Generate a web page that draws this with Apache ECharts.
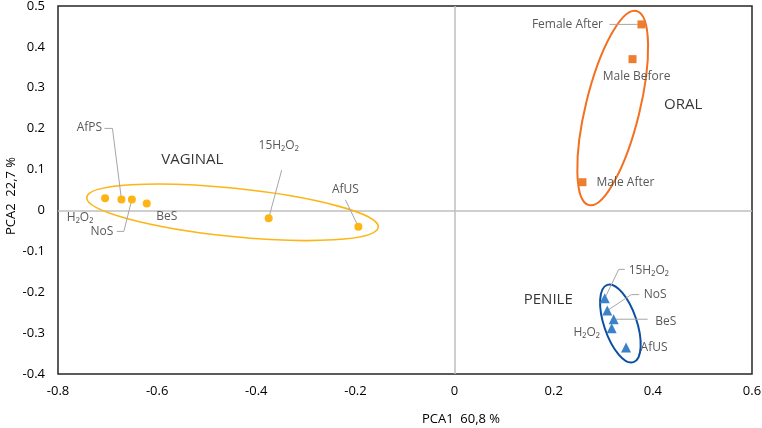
<!DOCTYPE html>
<html>
<head>
<meta charset="utf-8">
<script src="https://cdn.jsdelivr.net/npm/echarts@6/dist/echarts.min.js"></script>
<style>
  html, body { margin: 0; padding: 0; background: #fff; }
  #chart { width: 762px; height: 428px; }
</style>
</head>
<body>
<div id="chart"></div>
<script>
// 数据（从图上读出的 PCA 坐标）
const vaginalNames = ["H₂O₂", "AfPS", "NoS", "BeS", "15H₂O₂", "AfUS"];
const vaginalX = [-0.705, -0.672, -0.651, -0.621, -0.375, -0.194];
const vaginalY = [0.030, 0.027, 0.027, 0.017, -0.019, -0.040];

const oralNames = ["Female After", "Male Before", "Male After"];
const oralX = [0.377, 0.359, 0.258];
const oralY = [0.455, 0.370, 0.069];

const penileNames = ["15H₂O₂", "NoS", "BeS", "H₂O₂", "AfUS"];
const penileX = [0.303, 0.308, 0.321, 0.317, 0.346];
const penileY = [-0.215, -0.245, -0.266, -0.288, -0.335];

// 分组名称及其位置（数据坐标）
const groupNames = ["VAGINAL", "ORAL", "PENILE"];
const groupX = [-0.529, 0.461, 0.189];
const groupY = [0.123, 0.258, -0.219];

// 椭圆：长轴两端点 + 短半轴（y 方向单位）
const ellipseStart = [[-0.742, 0.032], [0.367, 0.488], [0.308, -0.182]];
const ellipseEnd = [[-0.154, -0.041], [0.271, 0.013], [0.361, -0.371]];
const ellipseHalfWidth = [0.059, 0.066, 0.040];
const ellipseColors = ["#FDB515", "#F47021", "#0B4EA2"];

// 标签偏移（像素，相对于点）
const vaginalOffsets = [[-25, 19], [-32, -72], [-30, 32], [20, 13], [10, -73], [-13, -37]];
const oralOffsets = [[-74, 0], [4, 17], [43, 0]];
const penileOffsets = [[44, -28], [48, -16], [52, 2], [-25, 4], [28, 0]];

// 引线折点（像素，相对于点），null = 无引线
const vaginalLeaders = [null, [[-9, -71], [-17, -71]], [[-8, 32], [-15, 32]], null, [[13, -48]], [[-13, -27]]];
const oralLeaders = [[[-5, 0], [-32, 0]], null, null];
const penileLeaders = [[[14, -29], [20, -29]], [[24, -16], [32, -16]], [[34, 0]], null, null];

const FONT = "'Open Sans', 'DejaVu Sans', sans-serif";

function pointSeries(names, xs, ys, symbol, size, color, offsets) {
  return {
    type: "scatter",
    z: 4,
    symbol,
    symbolSize: size,
    itemStyle: { color, opacity: 1 },
    data: names.map((n, i) => ({ name: n, value: [xs[i], ys[i]] })),
    label: {
      show: true,
      position: "inside",
      formatter: "{b}",
      color: "#595959",
      fontSize: 12,
      fontFamily: FONT,
    },
    labelLayout: (p) => ({ dx: offsets[p.dataIndex][0], dy: offsets[p.dataIndex][1] }),
  };
}

// 引线：从点出发，按折点画折线
function leaderSeries(xs, ys, leaders) {
  return {
    type: "custom",
    z: 3,
    silent: true,
    data: xs.map((x, i) => [x, ys[i]]),
    renderItem: (params, api) => {
      const bends = leaders[params.dataIndex];
      if (!bends) return null;
      const p = api.coord([api.value(0), api.value(1)]);
      const pts = [p].concat(bends.map((b) => [p[0] + b[0], p[1] + b[1]]));
      return {
        type: "polyline",
        shape: { points: pts },
        style: { fill: "none", stroke: "#A6A6A6", lineWidth: 1 },
      };
    },
  };
}

const myChart = echarts.init(document.getElementById("chart"));

myChart.setOption({
  animation: false,
  grid: {
    left: 58,
    right: 10,
    top: 6,
    bottom: 54,
    containLabel: false,
    outerBoundsMode: "none",
    show: true,
    borderColor: "#262626",
    borderWidth: 1.5,
  },
  xAxis: {
    type: "value",
    min: -0.8,
    max: 0.6,
    interval: 0.2,
    name: "PCA1  60,8 %",
    nameLocation: "middle",
    nameGap: 39,
    nameMoveOverlap: false,
    nameTextStyle: { color: "#000", fontSize: 13, fontFamily: FONT, padding: [0, 0, 0, 112] },
    axisLine: { show: false },
    axisTick: { show: false },
    splitLine: { show: false },
    axisLabel: { color: "#000", fontSize: 13, fontFamily: FONT, margin: 11 },
  },
  yAxis: {
    type: "value",
    min: -0.4,
    max: 0.5,
    interval: 0.1,
    name: "PCA2  22,7 %",
    nameLocation: "middle",
    nameGap: 40,
    nameMoveOverlap: false,
    nameTextStyle: { color: "#000", fontSize: 13, fontFamily: FONT, padding: [0, 12, 0, 0] },
    axisLine: { show: false },
    axisTick: { show: false },
    splitLine: { show: false },
    axisLabel: { color: "#000", fontSize: 13, fontFamily: FONT, margin: 13 },
  },
  series: [
    {
      // 椭圆
      type: "custom",
      z: 3,
      silent: true,
      data: ellipseStart.map((s, i) => [s[0], s[1], ellipseEnd[i][0], ellipseEnd[i][1], ellipseHalfWidth[i]]),
      renderItem: (params, api) => {
        const p1 = api.coord([api.value(0), api.value(1)]);
        const p2 = api.coord([api.value(2), api.value(3)]);
        const b = api.size([0, api.value(4)])[1];
        const dx = p2[0] - p1[0];
        const dy = p2[1] - p1[1];
        return {
          type: "ellipse",
          x: (p1[0] + p2[0]) / 2,
          y: (p1[1] + p2[1]) / 2,
          rotation: -Math.atan2(dy, dx),
          shape: { cx: 0, cy: 0, rx: Math.hypot(dx, dy) / 2, ry: b },
          style: {
            fill: "none",
            stroke: ellipseColors[params.dataIndex],
            lineWidth: params.dataIndex === 0 ? 1.6 : 2,
          },
        };
      },
    },
    {
      // 分组文字 + 零线
      type: "scatter",
      z: 5,
      silent: true,
      symbolSize: 0,
      data: groupNames.map((n, i) => ({ name: n, value: [groupX[i], groupY[i]] })),
      label: {
        show: true,
        position: "inside",
        formatter: "{b}",
        color: "#000",
        fontSize: 15,
        fontFamily: FONT,
      },
      markLine: {
        silent: true,
        z: 1,
        symbol: "none",
        label: { show: false },
        lineStyle: { color: "#BFBFBF", type: "solid", width: 1.5 },
        data: [{ xAxis: 0 }, { yAxis: 0 }],
      },
    },
    leaderSeries(vaginalX, vaginalY, vaginalLeaders),
    leaderSeries(oralX, oralY, oralLeaders),
    leaderSeries(penileX, penileY, penileLeaders),
    pointSeries(vaginalNames, vaginalX, vaginalY, "circle", 8, "#FDB515", vaginalOffsets),
    pointSeries(oralNames, oralX, oralY, "rect", 8, "#ED7D31", oralOffsets),
    pointSeries(penileNames, penileX, penileY, "triangle", 10, "#3B82CA", penileOffsets),
  ],
});
</script>
</body>
</html>
